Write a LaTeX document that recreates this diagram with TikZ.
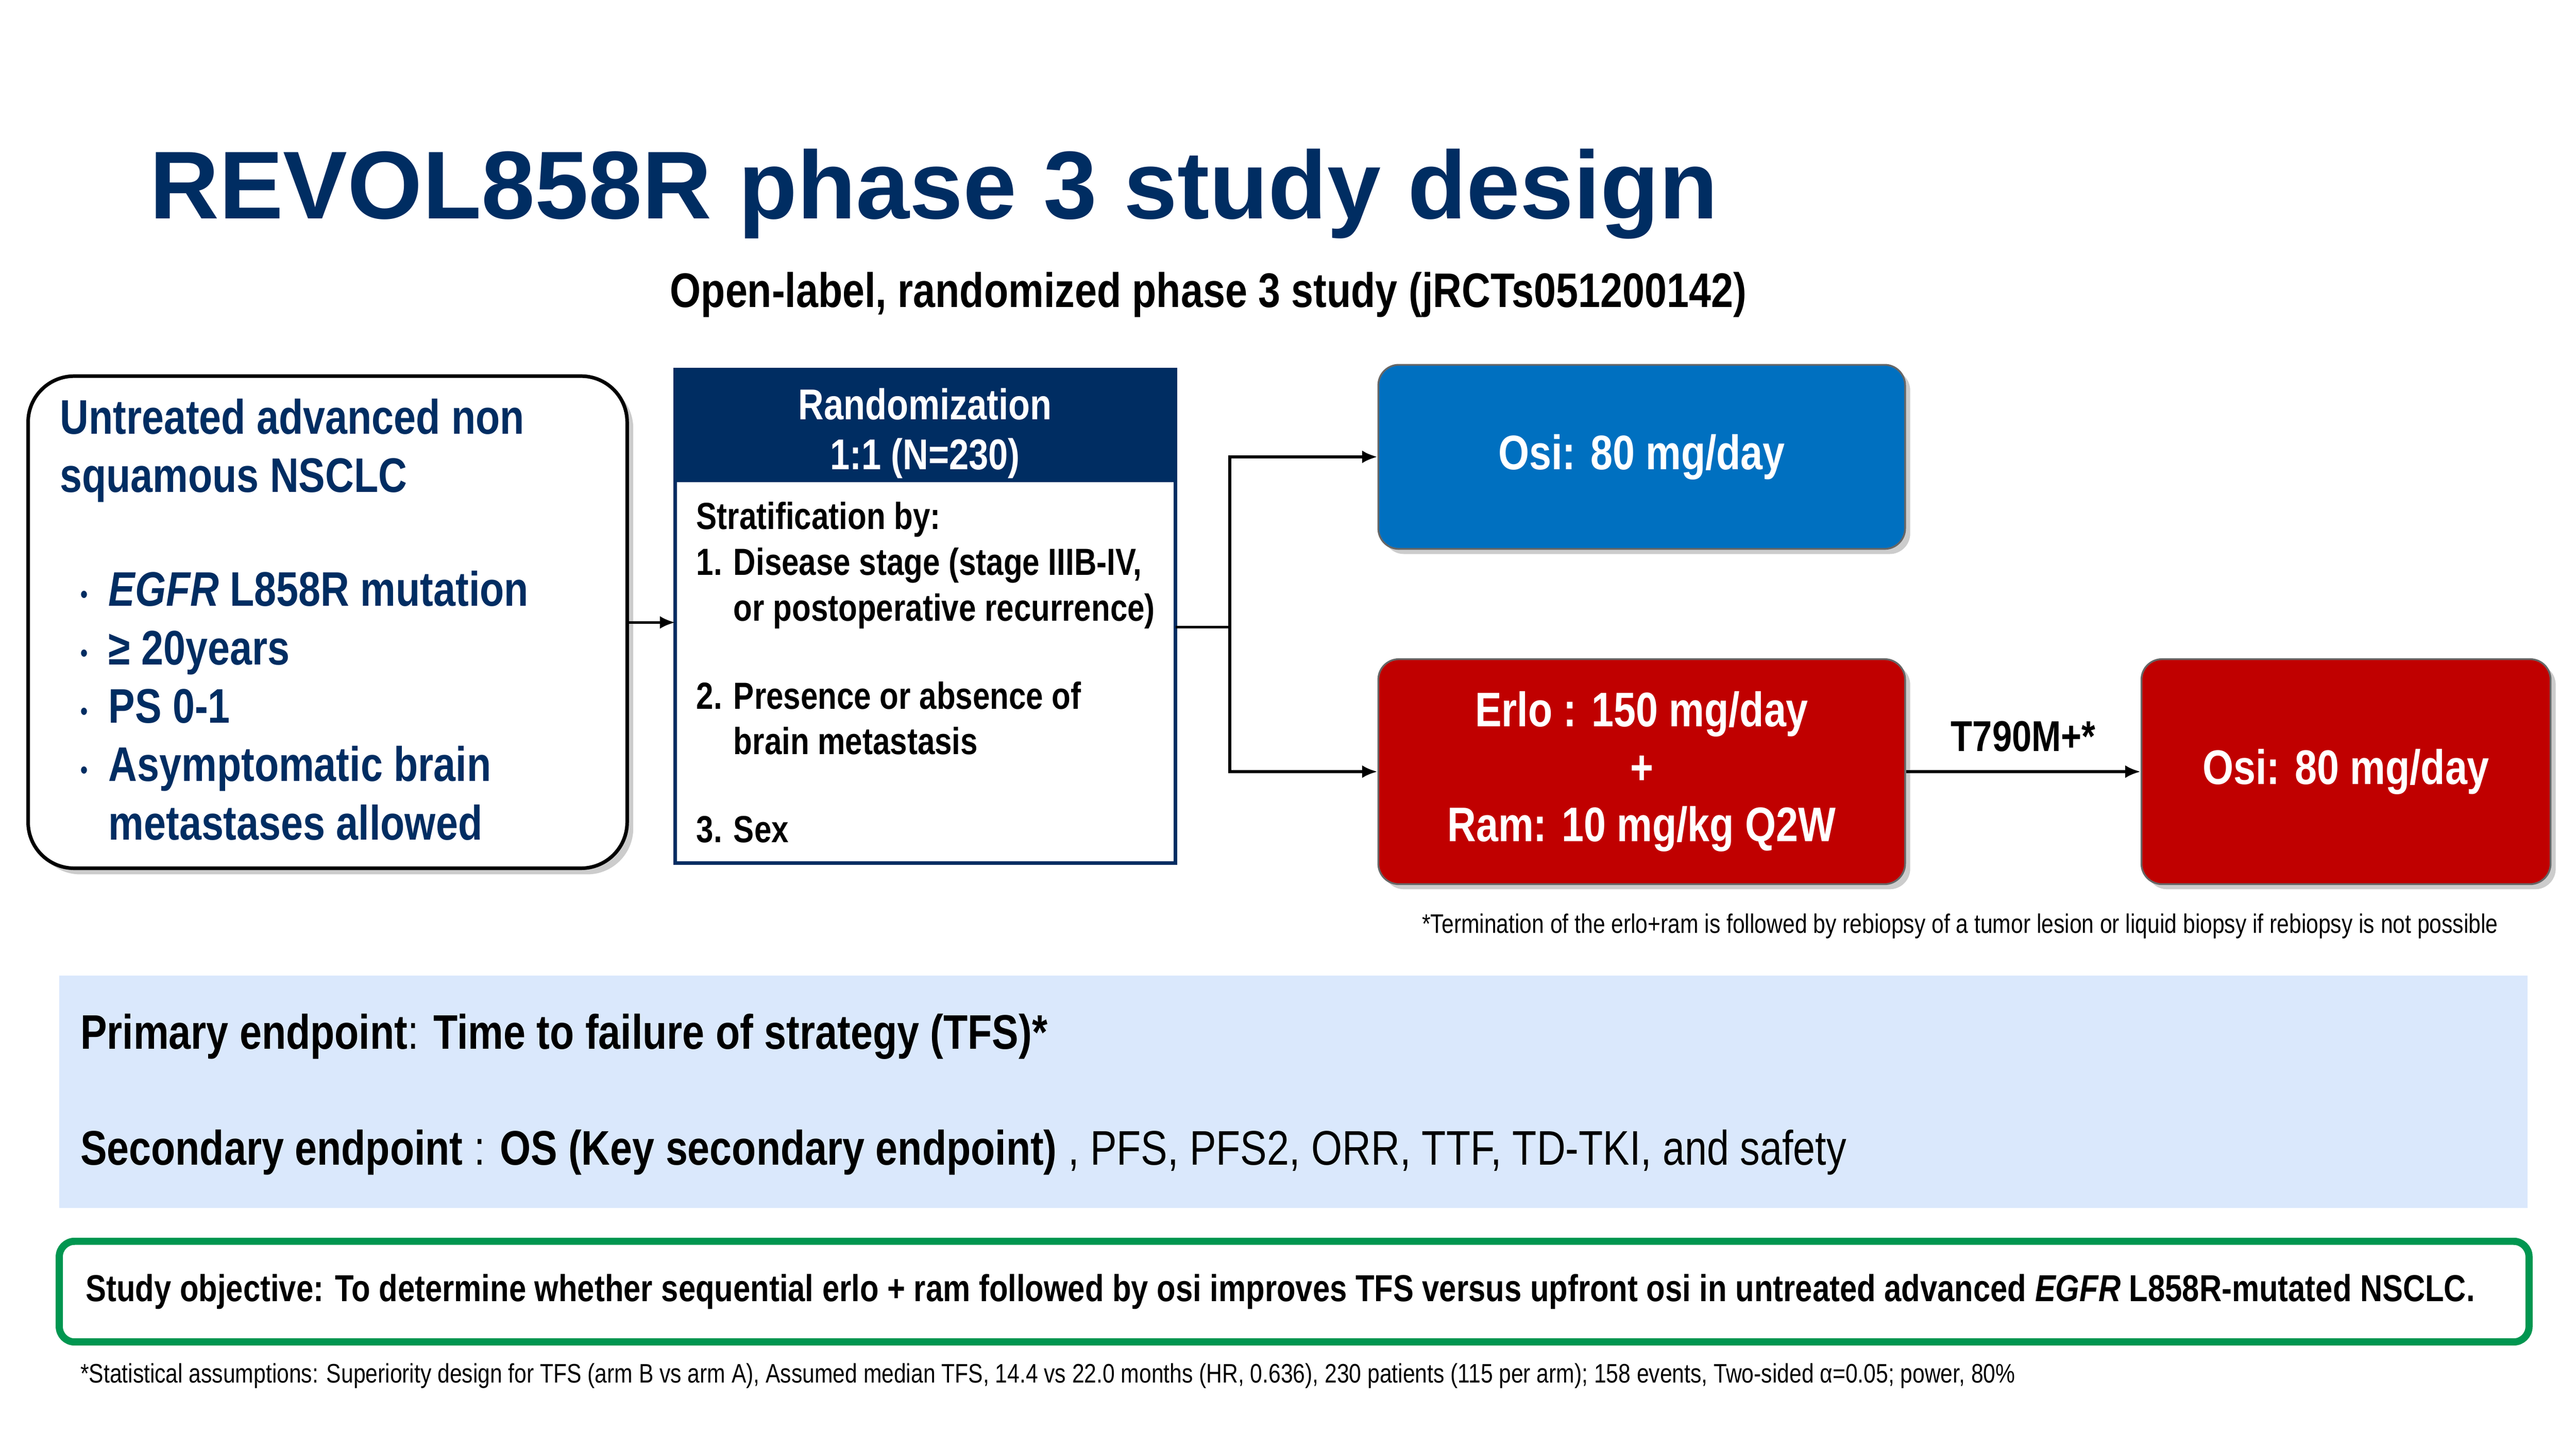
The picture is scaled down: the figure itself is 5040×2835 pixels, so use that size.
\documentclass[tikz,border=0pt]{standalone}
\usepackage{fontspec}
\setmainfont{Liberation Sans}
\newfontfamily\narrow[FakeStretch=0.82]{Liberation Sans}
\usetikzlibrary{arrows.meta,shadows}
\definecolor{navy}{RGB}{0,45,98}
\definecolor{osiblue}{RGB}{0,112,192}
\definecolor{erred}{RGB}{192,0,0}
\definecolor{band}{RGB}{218,232,252}
\definecolor{objgreen}{RGB}{0,150,80}
\newcommand{\sbul}{\makebox[0.55cm][l]{\fontsize{14}{14}\selectfont\raisebox{0.12em}{\textbullet}}}
\tikzset{
 arr/.style={-{Latex[length=0.3cm,width=0.25cm]},line width=1.5pt},
 armbox/.style={draw=black!60,line width=1pt,rounded corners=0.4cm,text=white,font=\narrow\bfseries\fontsize{27}{32}\selectfont,align=center,drop shadow={shadow xshift=0.1cm,shadow yshift=-0.1cm,opacity=0.4}},
}
\begin{document}
\begin{tikzpicture}[x=0.01cm,y=-0.01cm]
\useasboundingbox (0,0) rectangle (5040,2835);
\node[anchor=west,text=navy,font=\bfseries\fontsize{53.6}{60}\selectfont] (title) at (280,380) {REVOL858R phase 3 study design};
\node[font=\narrow\bfseries\fontsize{27}{32}\selectfont] (sub) at (2364,577) {Open-label, randomized phase 3 study (jRCTs051200142)};
% left box
\draw[line width=2pt,rounded corners=0.9cm,fill=white,drop shadow={shadow xshift=0.12cm,shadow yshift=-0.12cm,opacity=0.4}] (55,736) rectangle (1227,1699);
\coordinate (lbR) at (1227,1218);
\node[anchor=north west,text=navy,font=\narrow\bfseries\fontsize{27}{32.5}\selectfont,align=left] (lt) at (105,768) {Untreated advanced non\\squamous NSCLC};
\node[anchor=north west,text=navy,font=\narrow\bfseries\fontsize{27}{32.5}\selectfont,align=left] (lb) at (145,1105) {\sbul\textit{EGFR} L858R mutation\\\sbul≥ 20years\\\sbul PS 0-1\\\sbul Asymptomatic brain\\\phantom{\sbul}metastases allowed};
% randomization
\draw[navy,line width=2pt,fill=white] (1321,723) rectangle (2300,1689);
\fill[navy] (1321,723) rectangle (2300,943);
\node[text=white,font=\narrow\bfseries\fontsize{24}{28}\selectfont,align=center] (rt) at (1810,848) {Randomization\\1:1 (N=230)};
\node[anchor=north west,font=\narrow\bfseries\fontsize{21}{25.5}\selectfont,align=left] (strat) at (1350,970) {Stratification by:\\1. Disease stage (stage IIIB-IV,\\\phantom{1. }or postoperative recurrence)\\[0.82cm]2. Presence or absence of\\\phantom{2. }brain metastasis\\[0.82cm]3. Sex};
\coordinate (rbL) at (1321,1218);
\coordinate (rbR) at (2300,1227);
\coordinate (split) at (2406,1227);
\draw[arr] (lbR) -- (rbL);
% arms
\node[armbox,fill=osiblue,minimum width=10.3cm,minimum height=3.6cm] (osiA) at (3212,894) {Osi: 80 mg/day};
\node[armbox,fill=erred,minimum width=10.3cm,minimum height=4.4cm] (erlo) at (3212,1510) {Erlo : 150 mg/day\\+\\Ram: 10 mg/kg Q2W};
\node[armbox,fill=erred,minimum width=8.0cm,minimum height=4.4cm] (osiB) at (4590,1510) {Osi: 80 mg/day};
\draw[line width=1.5pt] (rbR) -- (split);
\draw[arr] (split) |- (osiA.west);
\draw[arr] (split) |- (erlo.west);
\draw[arr] (erlo.east) -- node[above=0.25cm,font=\narrow\bfseries\fontsize{24}{28}\selectfont] (t790) {T790M+*} (osiB.west);
\node[anchor=west,font=\narrow\fontsize{14.9}{17}\selectfont] (fn1) at (2770,1812) {*Termination of the erlo+ram is followed by rebiopsy of a tumor lesion or liquid biopsy if rebiopsy is not possible};
% band
\fill[band] (116,1909) rectangle (4945,2364);
\node[anchor=west,font=\narrow\fontsize{27}{32}\selectfont] (prim) at (145,2028) {\textbf{Primary endpoint}: \textbf{Time to failure of strategy (TFS)*}};
\node[anchor=west,font=\narrow\fontsize{27}{32}\selectfont] (sec) at (145,2255) {\textbf{Secondary endpoint} : \textbf{OS (Key secondary endpoint)} , PFS, PFS2, ORR, TTF, TD-TKI, and safety};
% objective
\draw[objgreen,line width=4pt,rounded corners=0.3cm] (116,2429) rectangle (4948,2626);
\node[font=\narrow\bfseries\fontsize{20.9}{26}\selectfont] (obj) at (2505,2528) {Study objective: To determine whether sequential erlo + ram followed by osi improves TFS versus upfront osi in untreated advanced \textit{EGFR} L858R-mutated NSCLC.};
\node[anchor=west,font=\narrow\fontsize{14.9}{17}\selectfont] (fn2) at (145,2692) {*Statistical assumptions: Superiority design for TFS (arm B vs arm A),  Assumed median TFS, 14.4 vs 22.0 months (HR, 0.636), 230 patients (115 per arm); 158 events, Two-sided α=0.05; power, 80\%};
\end{tikzpicture}
\end{document}
